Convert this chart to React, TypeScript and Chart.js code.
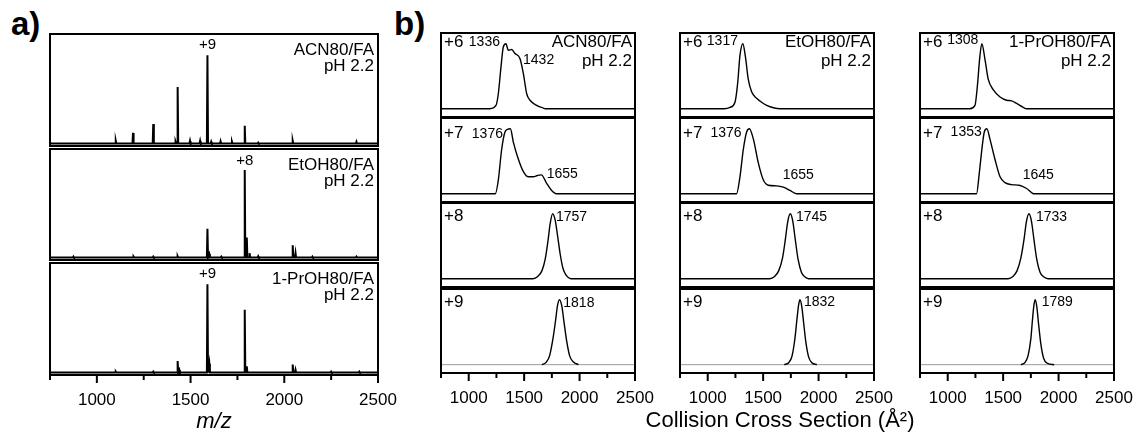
import React, { useEffect, useRef } from 'react';
import { Chart, registerables } from 'chart.js';
Chart.register(...registerables);

const FONT = '"Liberation Sans", Arial, Helvetica, sans-serif';

// ---------- axis ----------
const xMinVal = 750;
const xMaxVal = 2500;
const xStep = 250;
const xLabelled = [1000, 1500, 2000, 2500];

// ---------- panel a: mass spectra (peak m/z, relative intensity) ----------
const solventLabels = ['ACN80/FA', 'EtOH80/FA', '1-PrOH80/FA'];
const phLabel = 'pH 2.2';
const msChargeLabels = ['+9', '+8', '+9'];
const msChargeMz = [1590, 1789, 1590];

const acnMz = [1101, 1193, 1301, 1420, 1431, 1497, 1551, 1590, 1610, 1660, 1721, 1789, 1861, 2045, 2385];
const acnInt = [0.03, 0.12, 0.22, 0.02, 0.64, 0.03, 0.03, 1.0, 0.02, 0.025, 0.02, 0.2, 0.01, 0.03, 0.02];

const etohMz = [875, 1196, 1301, 1431, 1590, 1600, 1664, 1789, 1800, 1815, 1861, 2045, 2060, 2150, 2385];
const etohInt = [0.01, 0.01, 0.01, 0.015, 0.33, 0.04, 0.01, 1.0, 0.23, 0.05, 0.015, 0.14, 0.05, 0.01, 0.01];

const prohMz = [1101, 1301, 1431, 1440, 1590, 1600, 1789, 1800, 2045, 2060, 2250, 2400];
const prohInt = [0.01, 0.01, 0.13, 0.03, 1.0, 0.1, 0.71, 0.07, 0.09, 0.03, 0.01, 0.01];

// ---------- panel b: CCS distributions ----------
const chargeStates = ['+6', '+7', '+8', '+9'];

const acn6X = [750, 1190, 1246, 1267, 1291, 1312, 1336, 1357, 1388, 1417, 1463, 1493, 1523, 1553, 1613, 1673, 1690, 2500];
const acn6Y = [0, 0, 0.05, 0.23, 0.64, 0.95, 1.0, 0.9, 0.91, 0.85, 0.77, 0.54, 0.23, 0.13, 0.05, 0.01, 0, 0];
const acn7X = [750, 1240, 1267, 1297, 1327, 1350, 1376, 1403, 1448, 1493, 1538, 1583, 1620, 1655, 1703, 1748, 1790, 2500];
const acn7Y = [0, 0, 0.21, 0.68, 0.95, 0.99, 1.0, 0.79, 0.53, 0.34, 0.26, 0.26, 0.28, 0.29, 0.16, 0.05, 0, 0];
const acn8X = [750, 1580, 1620, 1660, 1690, 1715, 1735, 1757, 1780, 1800, 1825, 1850, 1880, 1920, 2500];
const acn8Y = [0, 0, 0.03, 0.12, 0.3, 0.58, 0.85, 1.0, 0.9, 0.68, 0.38, 0.16, 0.05, 0, 0];
const acn9X = [1660, 1700, 1730, 1760, 1785, 1800, 1818, 1840, 1860, 1885, 1910, 1945, 1990];
const acn9Y = [0, 0.04, 0.14, 0.4, 0.7, 0.9, 1.0, 0.9, 0.65, 0.35, 0.14, 0.04, 0];

const etoh6X = [750, 1150, 1201, 1246, 1270, 1291, 1317, 1340, 1366, 1396, 1441, 1502, 1562, 1650, 2500];
const etoh6Y = [0, 0, 0.02, 0.1, 0.39, 0.82, 1.0, 0.8, 0.45, 0.26, 0.16, 0.08, 0.03, 0, 0];
const etoh7X = [750, 1260, 1291, 1321, 1351, 1376, 1412, 1457, 1502, 1547, 1622, 1682, 1742, 1800, 2500];
const etoh7Y = [0, 0, 0.26, 0.68, 0.95, 1.0, 0.84, 0.47, 0.21, 0.13, 0.12, 0.1, 0.05, 0, 0];
const etoh8X = [750, 1560, 1600, 1640, 1675, 1700, 1722, 1745, 1768, 1790, 1815, 1845, 1875, 1910, 2500];
const etoh8Y = [0, 0, 0.03, 0.12, 0.32, 0.6, 0.88, 1.0, 0.88, 0.6, 0.3, 0.1, 0.03, 0, 0];
const etoh9X = [1690, 1730, 1760, 1785, 1805, 1820, 1832, 1848, 1865, 1885, 1910, 1940, 1985];
const etoh9Y = [0, 0.03, 0.13, 0.38, 0.7, 0.92, 1.0, 0.9, 0.65, 0.35, 0.12, 0.03, 0];

const proh6X = [750, 1200, 1246, 1267, 1291, 1308, 1336, 1366, 1412, 1472, 1532, 1577, 1622, 1682, 1712, 2500];
const proh6Y = [0, 0, 0.05, 0.34, 0.82, 1.0, 0.76, 0.45, 0.29, 0.18, 0.13, 0.12, 0.08, 0.02, 0, 0];
const proh7X = [750, 1260, 1285, 1312, 1330, 1353, 1381, 1426, 1472, 1517, 1577, 1645, 1712, 1775, 2500];
const proh7Y = [0, 0, 0.32, 0.74, 0.95, 1.0, 0.84, 0.53, 0.26, 0.17, 0.14, 0.13, 0.08, 0, 0];
const proh8X = [750, 1545, 1585, 1625, 1660, 1688, 1710, 1733, 1756, 1778, 1803, 1833, 1865, 1905, 2500];
const proh8Y = [0, 0, 0.03, 0.12, 0.32, 0.6, 0.88, 1.0, 0.88, 0.6, 0.3, 0.1, 0.03, 0, 0];
const proh9X = [1660, 1695, 1725, 1750, 1765, 1778, 1789, 1803, 1820, 1840, 1865, 1900, 1960];
const proh9Y = [0, 0.03, 0.14, 0.4, 0.7, 0.92, 1.0, 0.9, 0.62, 0.32, 0.1, 0.02, 0];

const acnPeakLabels = ['1336', '1432', '1376', '1655', '1757', '1818'];
const etohPeakLabels = ['1317', '1376', '1655', '1745', '1832'];
const prohPeakLabels = ['1308', '1353', '1645', '1733', '1789'];

// ---------- helpers ----------
type Pt = { x: number; y: number };
const zip = (xs: number[], ys: number[]): Pt[] => xs.map((x, i) => ({ x, y: ys[i] }));
const sticks = (mz: number[], inten: number[]): Pt[] => {
  const pts: Pt[] = [{ x: xMinVal, y: 0 }];
  mz.forEach((m, i) => {
    pts.push({ x: m - 3, y: 0 }, { x: m, y: inten[i] }, { x: m + 3, y: 0 });
  });
  pts.push({ x: xMaxVal, y: 0 });
  return pts;
};

type TextSpec = {
  t: string;
  x: number;
  y: number;
  align: CanvasTextAlign;
  size: number;
  ref: 'data' | 'frame';
};

type PlotProps = {
  left: number;
  top: number;
  width: number;
  height: number;
  yMin: number;
  yMax: number;
  sets: any[];
  texts: TextSpec[];
  axis: boolean;
};

const PX = 26;
const PY = 4;
const AXH = 40;

function Plot(p: PlotProps) {
  const ref = useRef<HTMLCanvasElement | null>(null);
  const cw = p.width + 2 * PX;
  const ch = p.height + 2 * PY + (p.axis ? AXH : 0);
  useEffect(() => {
    if (!ref.current) return;
    const decor = {
      id: 'decor',
      afterDraw(chart: any) {
        const { ctx, chartArea: a, scales } = chart;
        ctx.save();
        ctx.strokeStyle = '#000';
        ctx.lineWidth = 2;
        ctx.strokeRect(a.left, a.top, a.right - a.left, a.bottom - a.top);
        if (p.axis) {
          for (const t of scales.x.ticks) {
            const px = scales.x.getPixelForValue(t.value);
            const len = t.value % 500 === 0 ? 8 : 5;
            ctx.beginPath();
            ctx.moveTo(px, a.bottom);
            ctx.lineTo(px, a.bottom + len);
            ctx.stroke();
          }
        }
        ctx.fillStyle = '#000';
        ctx.textBaseline = 'middle';
        for (const s of p.texts) {
          ctx.font = `${s.size}px ${FONT}`;
          ctx.textAlign = s.align;
          let px: number;
          let py: number;
          if (s.ref === 'data') {
            px = scales.x.getPixelForValue(s.x);
            py = scales.y.getPixelForValue(s.y);
          } else {
            px = s.align === 'right' ? a.right - s.x : a.left + s.x;
            py = a.top + s.y;
          }
          ctx.fillText(s.t, px, py);
        }
        ctx.restore();
      },
    };
    const chart = new Chart(ref.current, {
      type: 'line',
      data: { datasets: p.sets },
      options: {
        animation: false,
        responsive: false,
        maintainAspectRatio: false,
        events: [],
        layout: { padding: { left: PX, right: PX, top: PY, bottom: PY } },
        plugins: { legend: { display: false }, tooltip: { enabled: false } },
        elements: { point: { radius: 0 } },
        scales: {
          x: {
            type: 'linear',
            min: xMinVal,
            max: xMaxVal,
            display: p.axis,
            grid: { display: false, drawTicks: false },
            border: { display: false },
            ticks: {
              stepSize: xStep,
              autoSkip: false,
              maxRotation: 0,
              minRotation: 0,
              padding: 15,
              color: '#000',
              font: { family: FONT, size: 17 },
              callback: (v: any) => (xLabelled.includes(Number(v)) ? String(v) : ''),
            },
            afterFit: (s: any) => {
              s.height = p.axis ? AXH : 0;
              s.paddingLeft = 0;
              s.paddingRight = 0;
            },
          },
          y: {
            type: 'linear',
            min: p.yMin,
            max: p.yMax,
            display: false,
            afterFit: (s: any) => {
              s.width = 0;
            },
          },
        },
      } as any,
      plugins: [decor],
    });
    return () => chart.destroy();
  }, []);
  return (
    <canvas
      ref={ref}
      width={cw}
      height={ch}
      style={{ position: 'absolute', left: p.left - PX, top: p.top - PY, width: cw, height: ch }}
    />
  );
}

// ---------- layout ----------
const A_LEFT = 50;
const A_WIDTH = 328;
const A_TOPS = [34, 149, 263];
const A_HEIGHTS = [112, 111, 112];
const A_YMIN = -0.028;
const A_YMAX = 1.24;

const B_LEFTS = [441, 680, 920];
const B_WIDTH = 194;
const B_TOPS = [33, 118, 203, 289];
const B_HEIGHT = 84;
const B_YMIN = -0.128;
const B_YMAX = 1.165;

const stickSet = (data: Pt[]) => ({
  data,
  borderColor: '#000',
  borderWidth: 2,
  tension: 0,
  pointRadius: 0,
  fill: false,
});
const curveSet = (data: Pt[]) => ({
  data,
  borderColor: '#000',
  borderWidth: 1.4,
  cubicInterpolationMode: 'monotone',
  pointRadius: 0,
  fill: false,
});
const grayBase = () => ({
  data: [
    { x: xMinVal, y: 0 },
    { x: xMaxVal, y: 0 },
  ],
  borderColor: '#9a9a9a',
  borderWidth: 1,
  pointRadius: 0,
  fill: false,
});

const frameT = (t: string, x: number, y: number, align: CanvasTextAlign, size: number): TextSpec => ({
  t,
  x,
  y,
  align,
  size,
  ref: 'frame',
});
const dataT = (t: string, x: number, y: number, align: CanvasTextAlign, size: number): TextSpec => ({
  t,
  x,
  y,
  align,
  size,
  ref: 'data',
});

export default function App() {
  const msSpectra = [sticks(acnMz, acnInt), sticks(etohMz, etohInt), sticks(prohMz, prohInt)];
  const msChargeY = [1.115, 1.1, 1.12];

  const columns = [
    {
      name: solventLabels[0],
      curves: [zip(acn6X, acn6Y), zip(acn7X, acn7Y), zip(acn8X, acn8Y), zip(acn9X, acn9Y)],
      peakTexts: [
        [dataT(acnPeakLabels[0], 1282, 1.02, 'right', 14), dataT(acnPeakLabels[1], 1490, 0.74, 'left', 14)],
        [dataT(acnPeakLabels[2], 1309, 0.92, 'right', 14), dataT(acnPeakLabels[3], 1703, 0.3, 'left', 14)],
        [dataT(acnPeakLabels[4], 1787, 0.94, 'left', 14)],
        [dataT(acnPeakLabels[5], 1853, 0.95, 'left', 14)],
      ],
    },
    {
      name: solventLabels[1],
      curves: [zip(etoh6X, etoh6Y), zip(etoh7X, etoh7Y), zip(etoh8X, etoh8Y), zip(etoh9X, etoh9Y)],
      peakTexts: [
        [dataT(etohPeakLabels[0], 1273, 1.04, 'right', 14)],
        [dataT(etohPeakLabels[1], 1306, 0.93, 'right', 14), dataT(etohPeakLabels[2], 1676, 0.29, 'left', 14)],
        [dataT(etohPeakLabels[3], 1796, 0.94, 'left', 14)],
        [dataT(etohPeakLabels[4], 1868, 0.97, 'left', 14)],
      ],
    },
    {
      name: solventLabels[2],
      curves: [zip(proh6X, proh6Y), zip(proh7X, proh7Y), zip(proh8X, proh8Y), zip(proh9X, proh9Y)],
      peakTexts: [
        [dataT(prohPeakLabels[0], 1276, 1.05, 'right', 14)],
        [dataT(prohPeakLabels[1], 1307, 0.95, 'right', 14), dataT(prohPeakLabels[2], 1676, 0.29, 'left', 14)],
        [dataT(prohPeakLabels[3], 1796, 0.94, 'left', 14)],
        [dataT(prohPeakLabels[4], 1848, 0.97, 'left', 14)],
      ],
    },
  ];
  const chargeYOff = [9, 15.5, 13.7, 13];

  return (
    <div
      style={{
        position: 'fixed',
        left: 0,
        top: 0,
        width: 1136,
        height: 434,
        background: '#fff',
        fontFamily: FONT,
        color: '#000',
        overflow: 'hidden',
      }}
    >
      <div style={{ position: 'absolute', left: 11, top: 4, fontSize: 33, fontWeight: 'bold', lineHeight: '40px' }}>a)</div>
      <div style={{ position: 'absolute', left: 394, top: 4, fontSize: 33, fontWeight: 'bold', lineHeight: '40px' }}>b)</div>

      {msSpectra.map((d, i) => (
        <Plot
          key={'a' + i}
          left={A_LEFT}
          top={A_TOPS[i]}
          width={A_WIDTH}
          height={A_HEIGHTS[i]}
          yMin={A_YMIN}
          yMax={A_YMAX}
          sets={[stickSet(d)]}
          axis={i === 2}
          texts={[
            dataT(msChargeLabels[i], msChargeMz[i], msChargeY[i], 'center', 15),
            frameT(solventLabels[i], 4, 16, 'right', 17),
            frameT(phLabel, 4, 32, 'right', 17),
          ]}
        />
      ))}

      {columns.map((col, c) =>
        col.curves.map((curve, r) => {
          const texts: TextSpec[] = [frameT(chargeStates[r], 3, chargeYOff[r], 'left', 17), ...col.peakTexts[r]];
          if (r === 0) {
            texts.push(frameT(col.name, 3, 9, 'right', 17), frameT(phLabel, 3, 28.5, 'right', 17));
          }
          const sets = r === 3 ? [curveSet(curve), grayBase()] : [curveSet(curve)];
          return (
            <Plot
              key={'b' + c + '_' + r}
              left={B_LEFTS[c]}
              top={B_TOPS[r]}
              width={B_WIDTH}
              height={B_HEIGHT}
              yMin={B_YMIN}
              yMax={B_YMAX}
              sets={sets}
              axis={r === 3}
              texts={texts}
            />
          );
        })
      )}

      <div
        style={{
          position: 'absolute',
          left: A_LEFT,
          width: A_WIDTH,
          top: 408,
          textAlign: 'center',
          fontSize: 22,
          fontStyle: 'italic',
          lineHeight: '26px',
        }}
      >
        m/z
      </div>
      <div
        style={{
          position: 'absolute',
          left: 580,
          width: 400,
          top: 407,
          textAlign: 'center',
          fontSize: 22,
          lineHeight: '26px',
        }}
      >
        Collision Cross Section (Å²)
      </div>
    </div>
  );
}
